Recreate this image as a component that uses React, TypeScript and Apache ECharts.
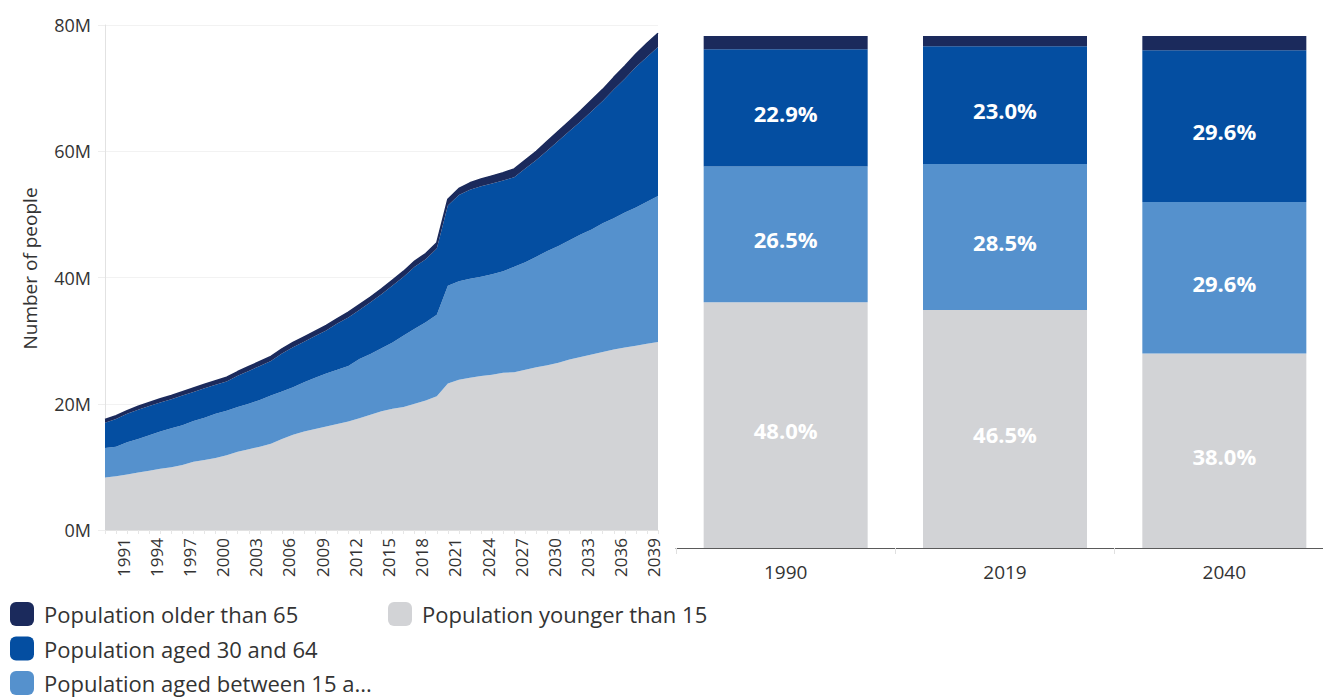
import React, { useEffect, useRef } from "react";
import * as echarts from "echarts";

const OLD = "Population older than 65";
const WORK = "Population aged 30 and 64";
const MID = "Population aged between 15 and 29";
const YOUNG = "Population younger than 15";

const years: string[] = [];
for (let y = 1990; y <= 2040; y++) years.push(String(y));

// millions
const youngVals = [8.3, 8.5, 8.8, 9.1, 9.4, 9.7, 9.95, 10.3, 10.8, 11.1, 11.4, 11.85, 12.4, 12.8, 13.2, 13.65, 14.4, 15.1, 15.6, 16.0, 16.4, 16.8, 17.2, 17.7, 18.25, 18.8, 19.2, 19.5, 20.0, 20.5, 21.2, 23.2, 23.8, 24.1, 24.4, 24.6, 24.9, 25.0, 25.4, 25.8, 26.1, 26.5, 27.0, 27.4, 27.8, 28.2, 28.6, 28.9, 29.2, 29.5, 29.8];
const midVals = [4.7, 4.7, 5.1, 5.3, 5.6, 5.9, 6.15, 6.3, 6.45, 6.7, 7.0, 7.05, 7.1, 7.2, 7.4, 7.65, 7.55, 7.5, 7.8, 8.1, 8.4, 8.6, 8.8, 9.4, 9.65, 10.0, 10.5, 11.3, 11.9, 12.4, 12.9, 15.5, 15.6, 15.7, 15.7, 15.9, 16.1, 16.7, 17.0, 17.5, 18.1, 18.5, 18.9, 19.4, 19.8, 20.4, 20.8, 21.4, 21.9, 22.5, 23.1];
const workVals = [4.0, 4.4, 4.5, 4.65, 4.65, 4.6, 4.6, 4.7, 4.63, 4.66, 4.6, 4.64, 4.92, 5.2, 5.4, 5.48, 6.01, 6.35, 6.44, 6.62, 6.8, 7.3, 7.68, 7.77, 8.16, 8.55, 9.04, 9.33, 9.82, 10.0, 10.48, 12.7, 13.65, 14.1, 14.35, 14.4, 14.35, 14.2, 14.85, 15.3, 15.9, 16.65, 17.3, 17.9, 18.75, 19.35, 20.4, 21.2, 22.25, 22.95, 23.6];
const oldVals = [0.5, 0.5, 0.5, 0.55, 0.55, 0.6, 0.6, 0.6, 0.62, 0.64, 0.65, 0.66, 0.68, 0.7, 0.7, 0.72, 0.74, 0.75, 0.76, 0.78, 0.8, 0.8, 0.82, 0.83, 0.84, 0.85, 0.86, 0.87, 0.88, 0.9, 0.92, 1.0, 1.05, 1.1, 1.15, 1.2, 1.25, 1.3, 1.35, 1.4, 1.5, 1.55, 1.6, 1.7, 1.75, 1.85, 1.9, 2.0, 2.05, 2.15, 2.2];

const yTicks = [0, 20, 40, 60, 80];

// share (%) bars
const barYears = ["1990", "2019", "2040"];
const barYoung = [48.0, 46.5, 38.0];
const barMid = [26.5, 28.5, 29.6];
const barWork = [22.9, 23.0, 29.6];
const barOld = [2.6, 2.0, 2.8];

const C_OLD = "#1b2a5c";
const C_WORK = "#044ea1";
const C_MID = "#5591cd";
const C_YOUNG = "#d2d3d6";

const FONT = "'Open Sans', 'Noto Sans', sans-serif";

export default function App() {
  const ref = useRef<HTMLDivElement>(null);
  useEffect(() => {
    if (!ref.current) return;
    const chart = echarts.init(ref.current, undefined, { renderer: "svg" });

    const area = (name: string, data: number[], color: string, top = false) => ({
      name,
      type: "line",
      xAxisIndex: 0,
      yAxisIndex: 0,
      stack: "pop",
      data,
      symbol: "none",
      smooth: false,
      lineStyle: { width: top ? 1.5 : 0, color },
      itemStyle: { color },
      areaStyle: { color, opacity: 1 },
      z: 2,
    });

    const bar = (name: string, data: number[], color: string, label: boolean) => ({
      name,
      type: "bar",
      xAxisIndex: 1,
      yAxisIndex: 1,
      stack: "share",
      data,
      barWidth: 164,
      itemStyle: { color },
      label: label
        ? {
            show: true,
            position: "inside",
            offset: [0, 5],
            color: "#ffffff",
            fontFamily: FONT,
            fontWeight: "bold",
            fontSize: 22,
            formatter: (p: any) => p.value.toFixed(1) + "%",
          }
        : { show: false },
    });

    const legendText = {
      fontFamily: FONT,
      fontSize: 22,
      color: "#333333",
      padding: [8, 0, 0, 5],
    };

    chart.setOption({
      animation: false,
      backgroundColor: "#ffffff",
      textStyle: { fontFamily: FONT },
      legend: [
        {
          orient: "vertical",
          left: 10,
          top: 602,
          height: 120,
          padding: 0,
          itemWidth: 24,
          itemHeight: 24,
          itemGap: 10.5,
          icon: "roundRect",
          data: [OLD, WORK, MID],
          textStyle: legendText,
          formatter: (n: string) => (n.length > 30 ? n.slice(0, 28) + "..." : n),
        },
        {
          orient: "vertical",
          left: 388,
          top: 602,
          padding: 0,
          itemWidth: 24,
          itemHeight: 24,
          icon: "roundRect",
          data: [YOUNG],
          textStyle: legendText,
        },
      ],
      grid: [
        { left: 105, right: 665, top: 25, bottom: 168, outerBoundsMode: "none" },
        { left: 676, width: 658, top: 36, bottom: 150, outerBoundsMode: "none" },
      ],
      xAxis: [
        {
          gridIndex: 0,
          type: "category",
          data: years,
          boundaryGap: false,
          axisLine: { show: true, lineStyle: { color: "#e2e2e2" } },
          axisTick: { show: true, interval: 0, length: 4, lineStyle: { color: "#e6e6e6" } },
          axisLabel: {
            rotate: 90,
            interval: (i: number) => i % 3 === 1,
            fontSize: 17,
            color: "#333333",
            fontFamily: FONT,
            margin: 8,
            verticalAlign: "top",
            lineHeight: 14,
          },
          splitLine: { show: false },
        },
        {
          gridIndex: 1,
          type: "category",
          data: barYears,
          axisLine: { show: true, lineStyle: { color: "#5a5a5a", width: 1 } },
          axisTick: { show: true, length: 6, lineStyle: { color: "#e0e0e0" } },
          axisLabel: { fontSize: 19, color: "#333333", fontFamily: FONT, margin: 14 },
        },
      ],
      yAxis: [
        {
          gridIndex: 0,
          type: "value",
          min: 0,
          max: 80,
          interval: 20,
          name: "Number of people",
          nameLocation: "middle",
          nameGap: 66,
          nameTextStyle: { fontSize: 19, color: "#333333", fontFamily: FONT, padding: [0, 0, 0, 18] },
          axisLine: { show: true, lineStyle: { color: "#e2e2e2" } },
          axisTick: { show: true, length: 7, lineStyle: { color: "#eeeeee" } },
          axisLabel: {
            fontSize: 18,
            color: "#333333",
            fontFamily: FONT,
            margin: 14,
            formatter: (v: number) => (yTicks.includes(v) ? v + "M" : ""),
          },
          splitLine: { show: true, lineStyle: { color: "#f2f2f2" } },
        },
        {
          gridIndex: 1,
          type: "value",
          min: 0,
          max: 100,
          show: false,
        },
      ],
      series: [
        area(YOUNG, youngVals, C_YOUNG),
        area(MID, midVals, C_MID),
        area(WORK, workVals, C_WORK),
        area(OLD, oldVals, C_OLD, true),
        bar(YOUNG, barYoung, C_YOUNG, true),
        bar(MID, barMid, C_MID, true),
        bar(WORK, barWork, C_WORK, true),
        bar(OLD, barOld, C_OLD, false),
      ],
    });
    return () => chart.dispose();
  }, []);
  return (
    <div
      ref={ref}
      style={{ position: "fixed", left: 0, top: 0, width: 1323, height: 698 }}
    />
  );
}
